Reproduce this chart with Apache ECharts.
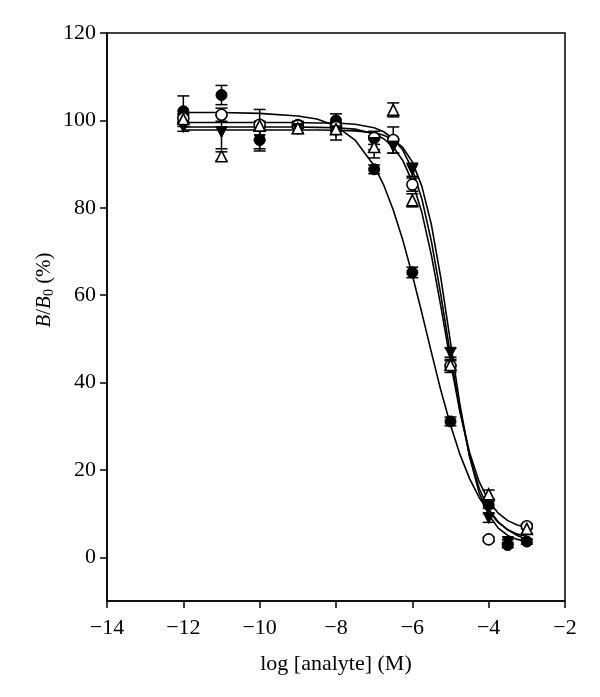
<!DOCTYPE html>
<html>
<head>
<meta charset="utf-8">
<script src="https://cdn.jsdelivr.net/npm/echarts@6/dist/echarts.min.js"></script>
<style>
  html, body { margin: 0; padding: 0; background: #fff; }
  #chart { width: 600px; height: 697px; }
</style>
</head>
<body>
<div id="chart"></div>
<script>
// measured points (mean, +/- error)
const xFilledCircle = [-12, -11, -10, -9, -8, -7, -6, -5, -4, -3.5, -3];
const yFilledCircle = [102.1, 105.8, 95.5, 99.0, 100.0, 88.8, 65.2, 31.1, 12.0, 2.8, 3.6];
const eFilledCircle = [3.5, 2.2, 2.0, 0.8, 1.5, 1.0, 1.2, 1.0, 0.8, 0.6, 0.6];

const xOpenCircle = [-12, -11, -10, -9, -8, -7, -6.5, -6, -5, -4, -3];
const yOpenCircle = [100.5, 101.3, 99.0, 98.8, 98.5, 96.0, 95.5, 85.3, 43.8, 4.1, 7.1];
const eOpenCircle = [1.0, 1.5, 3.5, 0.5, 1.0, 1.5, 3.0, 1.5, 1.5, 0.5, 0.5];

const xFilledTri = [-12, -11, -10, -9, -8, -7, -6.5, -6, -5, -4, -3.5];
const yFilledTri = [98.5, 97.3, 95.5, 98.0, 97.5, 94.8, 94.0, 88.7, 46.8, 9.0, 3.5];
const eFilledTri = [1.0, 3.8, 2.5, 1.0, 2.0, 1.5, 1.5, 1.5, 1.0, 1.0, 0.5];

const xOpenTri = [-12, -11, -10, -9, -8, -7, -6.5, -6, -5, -4, -3];
const yOpenTri = [100.3, 91.8, 98.8, 98.2, 98.0, 93.9, 102.4, 81.7, 44.0, 14.4, 6.5];
const eOpenTri = [1.0, 1.0, 1.0, 1.0, 1.0, 2.5, 1.6, 1.5, 1.0, 1.0, 1.0];

// fitted curves
const curveX = [-12, -11, -10, -9, -8.5, -8, -7.5, -7, -6.75, -6.5, -6.25, -6, -5.75, -5.5, -5.25, -5, -4.75, -4.5, -4.25, -4, -3.75, -3.5, -3.25, -3];
const curveFilledCircle = [101.8, 101.8, 101.6, 101.0, 100.3, 98.7, 95.5, 89.6, 85.2, 79.5, 72.6, 64.6, 55.9, 46.9, 38.1, 30.3, 23.5, 18.0, 13.7, 10.5, 8.0, 6.3, 5.0, 4.1];
const curveOpenCircle = [99.5, 99.5, 99.5, 99.5, 99.4, 99.4, 99.1, 98.3, 97.4, 95.8, 93.2, 88.8, 82.0, 72.3, 59.9, 46.3, 33.5, 23.2, 15.8, 11.0, 8.1, 6.3, 5.3, 4.8];
const curveFilledTri = [97.8, 97.8, 97.8, 97.8, 97.8, 97.75, 97.6, 97.2, 96.6, 95.6, 93.8, 90.5, 84.9, 76.1, 63.8, 49.2, 34.8, 23.0, 14.8, 9.7, 6.7, 5.0, 4.1, 3.6];
const curveOpenTri = [98.5, 98.5, 98.5, 98.5, 98.4, 98.3, 98.0, 96.9, 95.8, 93.9, 90.8, 86.0, 78.9, 69.1, 57.3, 44.7, 33.2, 24.0, 17.3, 12.9, 10.1, 8.4, 7.4, 6.8];

const yTicks = [0, 20, 40, 60, 80, 100, 120];
const FONT = '"Liberation Serif", "DejaVu Serif", serif';

function pairs(xs, ys) { return xs.map((x, i) => [x, ys[i]]); }
function bars(xs, ys, es) { return xs.map((x, i) => [x, ys[i] - es[i], ys[i] + es[i]]); }

function errorBar(params, api) {
  const x = api.value(0);
  const lo = api.coord([x, api.value(1)]);
  const hi = api.coord([x, api.value(2)]);
  const w = 6;
  const st = { stroke: '#000', lineWidth: 1.5 };
  return {
    type: 'group',
    children: [
      { type: 'line', shape: { x1: lo[0], y1: lo[1], x2: hi[0], y2: hi[1] }, style: st },
      { type: 'line', shape: { x1: lo[0] - w, y1: lo[1], x2: lo[0] + w, y2: lo[1] }, style: st },
      { type: 'line', shape: { x1: hi[0] - w, y1: hi[1], x2: hi[0] + w, y2: hi[1] }, style: st }
    ]
  };
}

function curve(ys) {
  return {
    type: 'line', data: pairs(curveX, ys), showSymbol: false, smooth: false,
    lineStyle: { color: '#000', width: 1.6 }, z: 2, silent: true
  };
}
function errs(xs, ys, es) {
  return { type: 'custom', renderItem: errorBar, data: bars(xs, ys, es), encode: { x: 0, y: [1, 2] }, z: 3, silent: true };
}
function pts(xs, ys, symbol, filled, rotate) {
  return {
    type: 'scatter', data: pairs(xs, ys), symbol: symbol, symbolSize: 11, symbolRotate: rotate || 0,
    itemStyle: filled ? { color: '#000', borderColor: '#000', borderWidth: 1, opacity: 1 }
                      : { color: '#fff', borderColor: '#000', borderWidth: 1.6, opacity: 1 },
    z: 4, silent: true
  };
}

const chart = echarts.init(document.getElementById('chart'));
chart.setOption({
  animation: false,
  backgroundColor: '#fff',
  grid: { left: 107, right: 35, top: 33, bottom: 96, show: true, borderColor: '#000', borderWidth: 1.5 },
  xAxis: {
    type: 'value', min: -14, max: -2, interval: 2,
    axisLine: { onZero: false, lineStyle: { color: '#000', width: 1.5 } },
    axisTick: { length: 7, lineStyle: { color: '#000', width: 1.5 } },
    splitLine: { show: false },
    axisLabel: {
      color: '#000', fontFamily: FONT, fontSize: 22, margin: 16,
      formatter: v => v < 0 ? '\u2212' + Math.abs(v) : String(v)
    },
    name: 'log [analyte] (M)', nameLocation: 'middle', nameGap: 52,
    nameTextStyle: { color: '#000', fontFamily: FONT, fontSize: 22 }
  },
  yAxis: {
    type: 'value', min: -10, max: 120, interval: 10,
    axisLine: { onZero: false, lineStyle: { color: '#000', width: 1.5 } },
    axisTick: { length: 7, customValues: yTicks, lineStyle: { color: '#000', width: 1.5 } },
    splitLine: { show: false },
    axisLabel: { color: '#000', fontFamily: FONT, fontSize: 22, margin: 11, customValues: yTicks }
  },
  graphic: [{
    type: 'text', x: 44, y: 290, rotation: Math.PI / 2,
    style: {
      text: '{i|B}/{i|B}{s|0} (%)', align: 'center', verticalAlign: 'middle',
      fill: '#000', font: '21px ' + FONT,
      rich: {
        i: { fontStyle: 'italic', fontFamily: FONT, fontSize: 21 },
        s: { fontFamily: FONT, fontSize: 14, padding: [10, 0, 0, 0] }
      }
    }
  }],
  series: [
    curve(curveFilledCircle), curve(curveOpenCircle), curve(curveFilledTri), curve(curveOpenTri),
    errs(xFilledCircle, yFilledCircle, eFilledCircle),
    errs(xOpenCircle, yOpenCircle, eOpenCircle),
    errs(xFilledTri, yFilledTri, eFilledTri),
    errs(xOpenTri, yOpenTri, eOpenTri),
    pts(xFilledCircle, yFilledCircle, 'circle', true),
    pts(xOpenCircle, yOpenCircle, 'circle', false),
    pts(xFilledTri, yFilledTri, 'triangle', true, 180),
    pts(xOpenTri, yOpenTri, 'triangle', false)
  ]
});
</script>
</body>
</html>
